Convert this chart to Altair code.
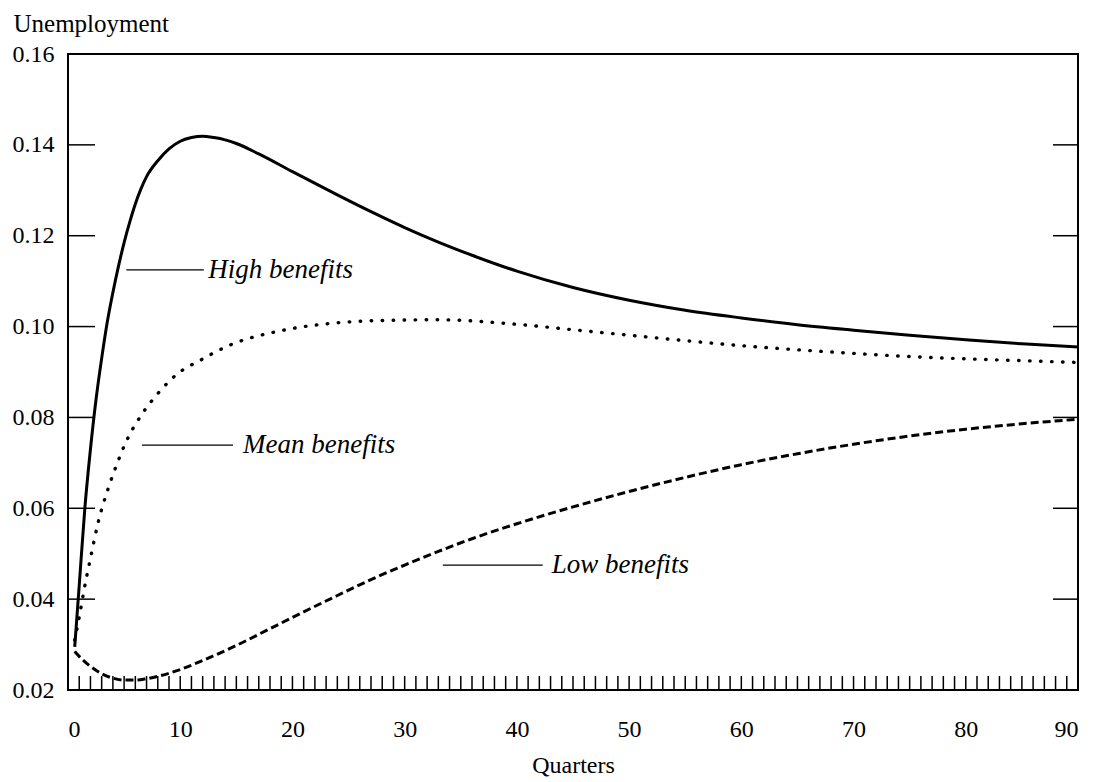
import altair as alt
import pandas as pd

FONT = "Liberation Serif"

# ---- data ----
high_q = [0.6, 1.0, 1.5, 2.0, 2.5, 3.0, 3.5, 4.0, 4.5, 5.0, 5.5, 6.0, 6.5, 7, 8, 9, 10, 11, 12, 13, 14, 15,
          17, 20, 24, 27, 30, 33, 36, 40, 45, 50, 55, 60, 65, 70, 75, 80, 85, 90]
high_u = [0.0295, 0.043, 0.060, 0.073, 0.084, 0.093, 0.101, 0.1075, 0.1133, 0.1185, 0.1230, 0.1270,
          0.1303, 0.1330, 0.1365, 0.1391, 0.1408, 0.1416, 0.1419, 0.1416, 0.1411, 0.1403, 0.1380,
          0.1341, 0.1290, 0.1253, 0.1218, 0.1186, 0.1157, 0.1122, 0.1086, 0.1058, 0.1036, 0.1019,
          0.1004, 0.0992, 0.0981, 0.0971, 0.0962, 0.0955]

mean_q = [0.6, 1.0, 1.4, 2.0, 2.7, 3.6, 4.4, 5.2, 6.4, 8.2, 9.7, 11.8, 14.7, 18.6, 23, 29, 33, 40, 45,
          50, 55, 60, 65, 70, 75, 80, 85, 90]
mean_u = [0.031, 0.036, 0.0416, 0.049, 0.057, 0.0645, 0.070, 0.0748, 0.080, 0.0858, 0.0895, 0.0926,
          0.0962, 0.0989, 0.1006, 0.1014, 0.1015, 0.1005, 0.0993, 0.0981, 0.0969, 0.0958, 0.0949,
          0.0941, 0.0934, 0.0929, 0.0925, 0.0921]

low_q = [0.6, 1, 2, 3, 4, 5, 6, 7, 8, 10, 12, 15, 18, 21, 24, 27, 30, 33, 36, 40, 45, 50, 55, 60,
         65, 70, 75, 80, 85, 90]
low_u = [0.0285, 0.0274, 0.0252, 0.0236, 0.0226, 0.0222, 0.0222, 0.0225, 0.0230, 0.0245, 0.0265,
         0.0298, 0.0335, 0.0372, 0.0408, 0.0443, 0.0475, 0.0505, 0.0533, 0.0566, 0.0603, 0.0637,
         0.0668, 0.0696, 0.0720, 0.0741, 0.0759, 0.0774, 0.0786, 0.0796]

x_ticks = list(range(0, 100, 10))
y_ticks = [0.02, 0.04, 0.06, 0.08, 0.10, 0.12, 0.14, 0.16]
minor_x = list(range(1, 90))
inner_y = [0.04, 0.06, 0.08, 0.10, 0.12, 0.14]

label_text = ["High benefits", "Mean benefits", "Low benefits"]
label_q = [12.5, 15.6, 43.1]
label_u = [0.1125, 0.0739, 0.0475]
leader_q1 = [5.2, 6.6, 33.4]
leader_q2 = [12.1, 14.7, 42.3]

# ---- tables ----
rows = []
for name, qs, us in [("High", high_q, high_u), ("Mean", mean_q, mean_u), ("Low", low_q, low_u)]:
    for q, u in zip(qs, us):
        rows.append({"series": name, "q": q, "u": u})
df = pd.DataFrame(rows)
ann = pd.DataFrame({"text": label_text, "q": label_q, "u": label_u,
                    "q1": leader_q1, "q2": leader_q2})
minor_df = pd.DataFrame({"q": minor_x})
ytick_df = pd.DataFrame({"u": inner_y})

W, H = 1010, 636

x_scale = alt.Scale(domain=[0, 90], nice=False, zero=False)
y_scale = alt.Scale(domain=[0.02, 0.16], nice=False, zero=False)

x_axis = alt.Axis(values=x_ticks, format="d", tickSize=0, domain=False, grid=False,
                  labelFont=FONT, labelFontSize=24, labelColor="black", labelPadding=27,
                  title="Quarters", titleFont=FONT, titleFontSize=24, titleFontWeight="normal",
                  titleColor="black", titleY=75, titleBaseline="middle")
y_axis = alt.Axis(values=y_ticks, format=".2f", tickSize=0, domain=False, grid=False,
                  labelFont=FONT, labelFontSize=24, labelColor="black", labelPadding=14,
                  title="Unemployment", titleFont=FONT, titleFontSize=25, titleFontWeight="normal",
                  titleColor="black", titleAngle=0, titleAlign="left", titleBaseline="alphabetic",
                  titleX=-55, titleY=-23)

X = alt.X("q:Q", scale=x_scale, axis=x_axis)
Y = alt.Y("u:Q", scale=y_scale, axis=y_axis)

base = alt.Chart(df)

high = base.transform_filter(alt.datum.series == "High").mark_line(
    color="black", strokeWidth=3, interpolate="monotone").encode(x=X, y=Y)
mean = base.transform_filter(alt.datum.series == "Mean").mark_line(
    color="black", strokeWidth=3.4, strokeDash=[0.5, 10.5], strokeCap="round",
    interpolate="monotone").encode(x=X, y=Y)
low = base.transform_filter(alt.datum.series == "Low").mark_line(
    color="black", strokeWidth=3, strokeDash=[8, 4], interpolate="monotone").encode(x=X, y=Y)

minor = alt.Chart(minor_df).mark_rule(color="black", strokeWidth=1.5).encode(
    x=alt.X("q:Q", scale=x_scale, axis=x_axis), y=alt.value(H), y2=alt.value(H - 14))
yl = alt.Chart(ytick_df).mark_rule(color="black", strokeWidth=1.5).encode(
    y=alt.Y("u:Q", scale=y_scale, axis=y_axis), x=alt.value(0), x2=alt.value(27))
yr = alt.Chart(ytick_df).mark_rule(color="black", strokeWidth=1.5).encode(
    y=alt.Y("u:Q", scale=y_scale, axis=y_axis), x=alt.value(W - 25), x2=alt.value(W))

leaders = alt.Chart(ann).mark_rule(color="black", strokeWidth=1.3).encode(
    x=alt.X("q1:Q", scale=x_scale, axis=x_axis), x2="q2:Q",
    y=alt.Y("u:Q", scale=y_scale, axis=y_axis))
labels = alt.Chart(ann).mark_text(align="left", baseline="middle", font=FONT,
                                  fontStyle="italic", fontSize=27, color="black").encode(
    x=alt.X("q:Q", scale=x_scale, axis=x_axis), y=alt.Y("u:Q", scale=y_scale, axis=y_axis),
    text="text:N")

chart = alt.layer(high, mean, low, minor, yl, yr, leaders, labels).properties(
    width=W, height=H,
    padding={"left": 60, "top": 46, "right": 20, "bottom": 94},
    autosize=alt.AutoSizeParams(type="none"),
    background="white",
).configure_view(stroke="black", strokeWidth=2)

chart.save("out.html", embed_options={"renderer": "svg", "actions": False})
